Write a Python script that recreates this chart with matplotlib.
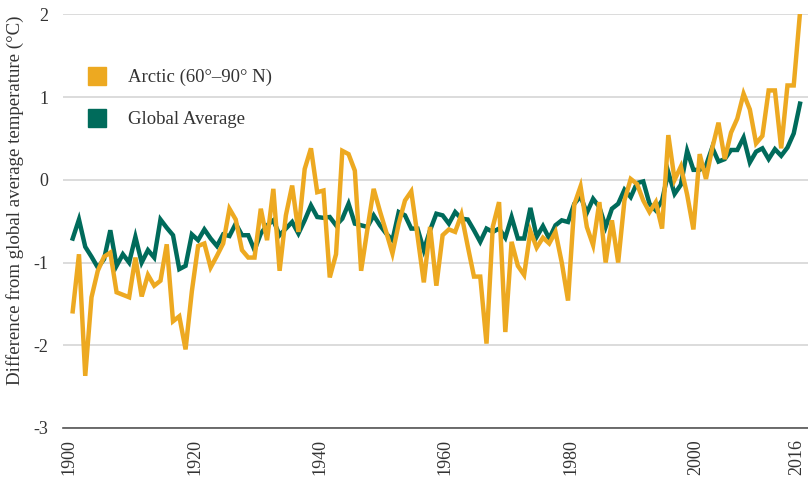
import matplotlib
matplotlib.use("Agg")
import matplotlib.pyplot as plt
import matplotlib.transforms as mtransforms
from matplotlib.patches import Rectangle

# years 1900 - 2016
years = list(range(1900, 2017))

# Arctic (60-90 N) anomaly
arctic = [
    -1.59, -0.90, -2.37, -1.42, -1.10, -0.93, -0.88, -1.36, -1.39, -1.42,  # 1900s
    -0.94, -1.41, -1.15, -1.28, -1.22, -0.78, -1.71, -1.65, -2.05, -1.35,  # 1910s
    -0.80, -0.77, -1.06, -0.92, -0.77, -0.35, -0.48, -0.85, -0.94, -0.94,  # 1920s
    -0.35, -0.73, -0.11, -1.10, -0.43, -0.07, -0.63, 0.13, 0.38, -0.15,    # 1930s
    -0.13, -1.18, -0.90, 0.35, 0.31, 0.11, -1.10, -0.60, -0.11, -0.38,     # 1940s
    -0.63, -0.89, -0.53, -0.25, -0.14, -0.68, -1.24, -0.57, -1.28, -0.67,  # 1950s
    -0.60, -0.63, -0.42, -0.80, -1.17, -1.17, -1.98, -0.57, -0.27, -1.84,  # 1960s
    -0.75, -1.04, -1.15, -0.62, -0.82, -0.70, -0.77, -0.63, -1.00, -1.46,  # 1970s
    -0.30, -0.08, -0.57, -0.79, -0.27, -1.00, -0.49, -1.00, -0.25, 0.01,   # 1980s
    -0.05, -0.25, -0.39, -0.27, -0.59, 0.54, 0.00, 0.16, -0.18, -0.60,     # 1990s
    0.31, 0.01, 0.38, 0.69, 0.25, 0.57, 0.74, 1.04, 0.85, 0.44,            # 2000s
    0.53, 1.08, 1.08, 0.38, 1.14, 1.14, 2.02,                              # 2010s
]

# global average
globe = [
    -0.71, -0.48, -0.81, -0.93, -1.06, -0.96, -0.61, -1.04, -0.90, -1.00,
    -0.69, -1.00, -0.85, -0.94, -0.48, -0.58, -0.67, -1.08, -1.04, -0.66,
    -0.73, -0.60, -0.71, -0.80, -0.66, -0.68, -0.53, -0.67, -0.67, -0.85,
    -0.65, -0.55, -0.49, -0.67, -0.59, -0.51, -0.65, -0.49, -0.31, -0.45,
    -0.46, -0.45, -0.55, -0.47, -0.29, -0.53, -0.55, -0.57, -0.43, -0.55,
    -0.65, -0.73, -0.39, -0.43, -0.59, -0.59, -0.85, -0.61, -0.41, -0.43,
    -0.53, -0.39, -0.47, -0.48, -0.61, -0.75, -0.59, -0.63, -0.59, -0.70,
    -0.45, -0.71, -0.71, -0.34, -0.69, -0.56, -0.71, -0.55, -0.49, -0.51,
    -0.29, -0.20, -0.40, -0.23, -0.33, -0.57, -0.35, -0.29, -0.12, -0.21,
    -0.04, -0.02, -0.29, -0.37, -0.25, 0.09, -0.17, -0.06, 0.35, 0.12,
    0.12, 0.17, 0.39, 0.22, 0.25, 0.36, 0.36, 0.51, 0.21, 0.34,
    0.38, 0.25, 0.37, 0.29, 0.39, 0.56, 0.92,
]

xticks = [1900, 1920, 1940, 1960, 1980, 2000, 2016]
yticks = [2, 1, 0, -1, -2, -3]
series_names = ["Arctic (60°–90° N)", "Global Average"]

orange = "#EDA921"
green = "#006B5B"
textc = "#333333"

plt.rcParams['font.family'] = ['Liberation Serif', 'DejaVu Serif']

fig = plt.figure(figsize=(8.08, 4.87), dpi=100)
W, H = 808, 487
ax = fig.add_axes([63 / W, 1 - 428 / H, (W - 63) / W, (428 - 14.3) / H])

ax.plot(years, globe, color=green, linewidth=3.2, solid_joinstyle='miter', zorder=3)
ax.plot(years, arctic, color=orange, linewidth=3.2, solid_joinstyle='miter', zorder=4)

# 1900 sits at x=72.7 px, 2016 at x=800 px
ppy = (800 - 72.7) / 116
ax.set_xlim(1900 - (72.7 - 63) / ppy, 2016 + (W - 800) / ppy)
ax.set_ylim(-3, 2)

ax.set_yticks(yticks)
ax.set_yticklabels([str(t) for t in yticks])
ax.set_xticks(xticks)
ax.set_xticklabels([str(t) for t in xticks], rotation=90)
ax.tick_params(axis='both', length=0, labelsize=13, colors=textc)
ax.tick_params(axis='y', pad=10.5)
ax.tick_params(axis='x', pad=8)

# year labels sit a few pixels left of their data points in the original
shift = mtransforms.ScaledTranslation(-3.5 / 100, 0, fig.dpi_scale_trans)
for lab in ax.get_xticklabels():
    lab.set_transform(lab.get_transform() + shift)

ax.grid(axis='y', color='#dcdcdc', linewidth=1.4)
ax.grid(axis='x', visible=False)
for s in ['top', 'right', 'left']:
    ax.spines[s].set_visible(False)
ax.spines['bottom'].set_color('#555555')
ax.spines['bottom'].set_linewidth(1.2)

fig.text(15 / W, 1 - 200 / H, "Difference from global average temperature (°C)",
         rotation=90, ha='center', va='center', fontsize=13.6, color=textc)

# legend with square swatches
for i, (name, col) in enumerate(zip(series_names, [orange, green])):
    cy = 75.6 + i * 42.4
    fig.add_artist(Rectangle((88 / W, 1 - (cy + 9) / H), 18 / W, 18 / H,
                             transform=fig.transFigure, color=col))
    fig.text(128 / W, 1 - cy / H, name, ha='left', va='center_baseline',
             fontsize=13.5, color=textc)

fig.savefig("out.png", dpi=100)
